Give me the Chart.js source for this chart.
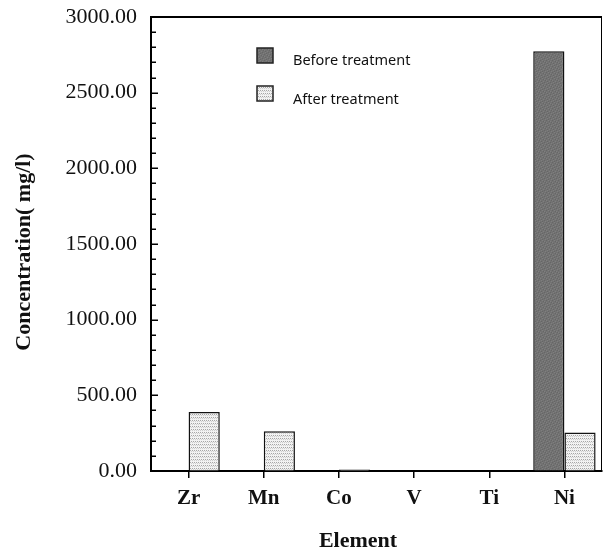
<!DOCTYPE html>
<html>
<head>
<meta charset="utf-8">
<script src="https://cdn.jsdelivr.net/npm/chart.js@4/dist/chart.umd.min.js"></script>
<style>
  html, body { margin: 0; padding: 0; background: #fff; }
  #wrap { width: 603px; height: 553px; }
</style>
</head>
<body>
<div id="wrap"><canvas id="c" width="603" height="553"></canvas></div>
<script>
// Element concentrations in mg/l
const elements = ['Zr', 'Mn', 'Co', 'V', 'Ti', 'Ni'];
const beforeTreatment = [0, 0, 0, 0, 0, 2773];
const afterTreatment = [390, 263, 10, 0, 0, 255];
const seriesNames = ['Before treatment', 'After treatment'];
const xTitle = 'Element';
const yTitle = 'Concentration( mg/l)';
const yMin = 0, yMax = 3000, yStep = 500, yMinorStep = 100;

const serif = '"Liberation Serif", "Times New Roman", serif';

// Fill textures: grainy dark grey and light dotted hatch
function makePattern(kind) {
  const t = document.createElement('canvas');
  const ctx = t.getContext('2d');
  t.width = 6; t.height = 6;
  if (kind === 'dark') {
    ctx.fillStyle = '#727272'; ctx.fillRect(0, 0, 6, 6);
    ctx.fillStyle = '#666';
    [[0,0],[3,1],[5,2],[1,3],[4,4],[2,5]].forEach(p => ctx.fillRect(p[0], p[1], 1, 1));
    ctx.fillStyle = '#7f7f7f';
    [[2,0],[0,2],[4,1],[3,3],[5,5],[1,4]].forEach(p => ctx.fillRect(p[0], p[1], 1, 1));
  } else {
    ctx.fillStyle = '#f2f2f2'; ctx.fillRect(0, 0, 6, 6);
    ctx.fillStyle = '#a6a6a6';
    [[0,0],[1,3],[2,0],[3,3],[4,0],[5,3]].forEach(p => ctx.fillRect(p[0], p[1], 1, 1));
    ctx.fillStyle = '#cfcfcf';
    [[1,1],[0,4],[3,1],[2,4],[5,1],[4,4]].forEach(p => ctx.fillRect(p[0], p[1], 1, 1));
  }
  return document.getElementById('c').getContext('2d').createPattern(t, 'repeat');
}
const darkFill = makePattern('dark');
const lightFill = makePattern('light');

// Frame, inward ticks, axis titles and legend block
const decorations = {
  id: 'decorations',
  afterDraw(chart) {
    const { ctx, chartArea: a } = chart;
    const ys = chart.scales.y;
    ctx.save();
    ctx.strokeStyle = '#000';
    // top and right frame
    ctx.lineWidth = 2;
    ctx.beginPath(); ctx.moveTo(a.left - 1, a.top); ctx.lineTo(a.right, a.top); ctx.stroke();
    ctx.lineWidth = 1;
    ctx.beginPath(); ctx.moveTo(a.right - 0.5, a.top); ctx.lineTo(a.right - 0.5, a.bottom); ctx.stroke();
    // inward y ticks
    ctx.lineWidth = 1.5;
    for (let v = yMin; v <= yMax; v += yMinorStep) {
      const y = Math.round(ys.getPixelForValue(v)) + 0.25;
      const len = (v % yStep === 0) ? 7 : 5;
      ctx.beginPath(); ctx.moveTo(a.left, y); ctx.lineTo(a.left + len, y); ctx.stroke();
    }
    // axis titles
    ctx.fillStyle = '#111';
    ctx.font = 'bold 22px ' + serif;
    ctx.textAlign = 'center';
    ctx.textBaseline = 'middle';
    ctx.fillText(xTitle, 358, 541);
    ctx.save();
    ctx.translate(24, 252);
    ctx.rotate(-Math.PI / 2);
    ctx.fillText(yTitle, 0, 0);
    ctx.restore();
    // legend
    const items = chart.data.datasets.map((d, i) => ({ fill: d.backgroundColor, text: seriesNames[i] }));
    const rows = [{ boxY: 48, textY: 61 }, { boxY: 86, textY: 100 }];
    ctx.font = '14.5px "Noto Sans", sans-serif';
    ctx.textAlign = 'left';
    items.forEach((it, i) => {
      const r = rows[i];
      ctx.fillStyle = it.fill;
      ctx.fillRect(257, r.boxY, 16, 15);
      ctx.lineWidth = 1.5;
      ctx.strokeStyle = '#222';
      ctx.strokeRect(257, r.boxY, 16, 15);
      ctx.fillStyle = '#111';
      ctx.fillText(it.text, 293, r.textY);
    });
    ctx.restore();
  }
};

new Chart(document.getElementById('c'), {
  type: 'bar',
  data: {
    labels: elements,
    datasets: [
      { label: seriesNames[0], data: beforeTreatment, backgroundColor: darkFill,
        borderColor: '#111', borderWidth: 1.5, borderSkipped: 'start' },
      { label: seriesNames[1], data: afterTreatment, backgroundColor: lightFill,
        borderColor: '#111', borderWidth: 1.5, borderSkipped: 'start' }
    ]
  },
  options: {
    responsive: false,
    animation: false,
    layout: { padding: { top: 17, right: 1, left: 0, bottom: 0 } },
    datasets: { bar: { categoryPercentage: 0.83, barPercentage: 1.0 } },
    plugins: { legend: { display: false }, tooltip: { enabled: false } },
    scales: {
      x: {
        grid: { display: true, drawOnChartArea: false, offset: false, tickLength: 7,
                color: '#000', lineWidth: 1.5 },
        border: { display: true, color: '#000', width: 2 },
        ticks: { color: '#111', padding: 8,
                 font: { family: serif, size: 21, weight: 'bold' } },
        afterFit(s) { s.height = 82; s.paddingLeft = 0; s.paddingRight = 0; }
      },
      y: {
        min: yMin, max: yMax,
        grid: { display: true, drawOnChartArea: false, drawTicks: false },
        border: { display: true, color: '#000', width: 2 },
        ticks: { stepSize: yStep, padding: 14, color: '#111',
                 callback: v => Number(v).toFixed(2),
                 font: { family: serif, size: 22 } },
        afterFit(s) { s.width = 151; s.paddingTop = 0; s.paddingBottom = 0; }
      }
    }
  },
  plugins: [decorations]
});
</script>
</body>
</html>
